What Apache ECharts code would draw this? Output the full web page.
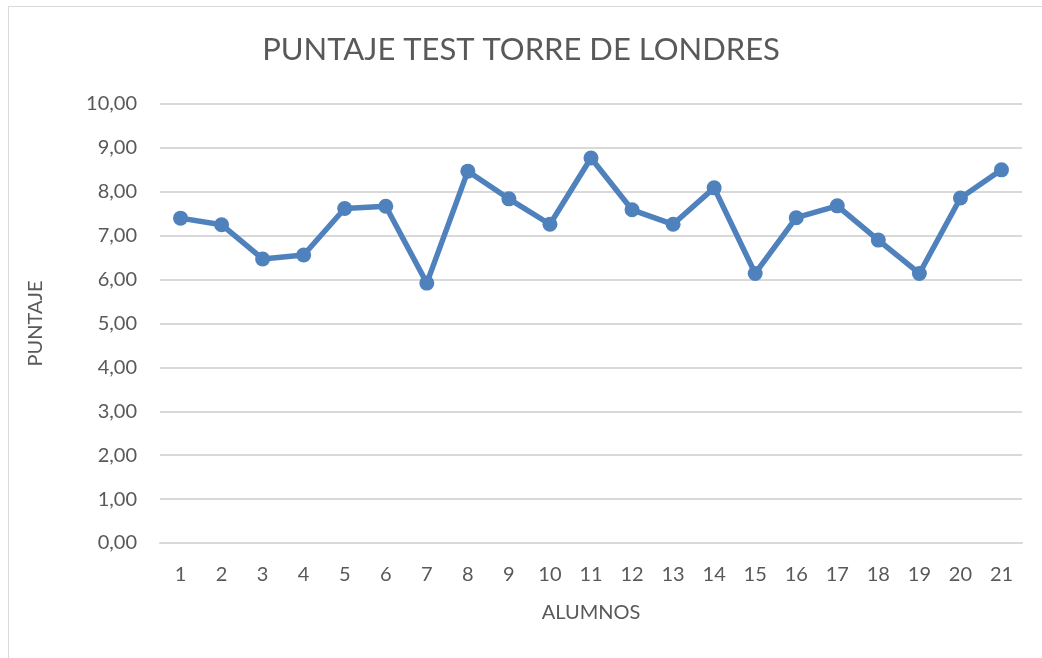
<!DOCTYPE html>
<html>
<head>
<meta charset="utf-8">
<script src="https://cdn.jsdelivr.net/npm/echarts@6/dist/echarts.min.js"></script>
<style>
    html, body { margin: 0; padding: 0; background: #fff; }
    .frame {
        position: absolute; left: 8px; top: 6px; width: 1100px; height: 700px;
        border-left: 1px solid #d9d9d9; border-top: 1px solid #d9d9d9;
    }
    .charts { position: absolute; left: 0; top: 0; width: 1042px; height: 658px; }
</style>
</head>
<body>
<div class="frame"></div>
<div class="charts" id="myEchart"></div>
<script>
// datos del gráfico
var alumnos = ['1', '2', '3', '4', '5', '6', '7', '8', '9', '10', '11', '12', '13', '14', '15', '16', '17', '18', '19', '20', '21'];
var puntaje = [7.40, 7.25, 6.47, 6.56, 7.62, 7.67, 5.92, 8.47, 7.84, 7.26, 8.77, 7.59, 7.26, 8.09, 6.14, 7.41, 7.68, 6.90, 6.14, 7.86, 8.50];

var textColor = '#595959';
var fontName = 'Lato';

var chart = echarts.init(document.getElementById('myEchart'));
chart.setOption({
    animation: false,
    textStyle: { fontFamily: fontName },
    title: {
        text: 'PUNTAJE TEST TORRE DE LONDRES',
        left: 'center',
        top: 29,
        textStyle: { color: textColor, fontSize: 31, fontWeight: 'normal', fontFamily: fontName }
    },
    grid: {
        left: 160,
        right: 20,
        top: 104,
        bottom: 115
    },
    xAxis: {
        type: 'category',
        data: alumnos,
        boundaryGap: true,
        name: 'ALUMNOS',
        nameLocation: 'middle',
        nameGap: 60,
        nameTextStyle: { color: textColor, fontSize: 20, fontFamily: fontName },
        axisTick: { show: false },
        axisLine: { lineStyle: { color: '#d9d9d9', width: 2 } },
        axisLabel: { color: textColor, fontSize: 20, margin: 22, fontFamily: fontName }
    },
    yAxis: {
        type: 'value',
        min: 0,
        max: 10,
        interval: 1,
        name: 'PUNTAJE',
        nameLocation: 'middle',
        nameGap: 114,
        nameTextStyle: { color: textColor, fontSize: 20, fontFamily: fontName },
        axisLine: { show: false },
        axisTick: { show: false },
        axisLabel: {
            color: textColor, fontSize: 20, margin: 23, fontFamily: fontName,
            formatter: function (v) { return v.toFixed(2).replace('.', ','); }
        },
        splitLine: { lineStyle: { color: '#d9d9d9', width: 2 } }
    },
    series: [{
        name: 'PUNTAJE',
        type: 'line',
        data: puntaje,
        symbol: 'circle',
        symbolSize: 15,
        itemStyle: { color: '#4f81bd' },
        lineStyle: { color: '#4f81bd', width: 5.5 }
    }]
});
</script>
</body>
</html>
